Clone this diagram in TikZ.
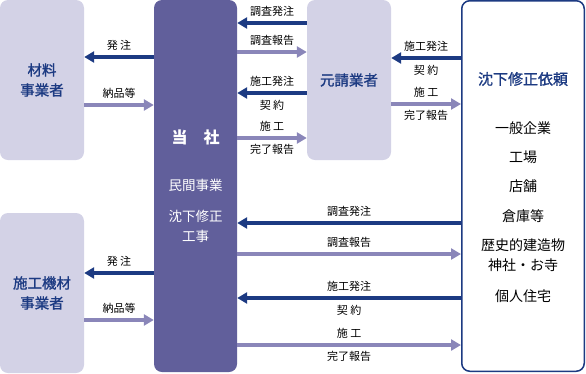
\documentclass[tikz,border=0pt]{standalone}
\usepackage{fontspec}
\setmainfont{Noto Sans CJK JP}
\newfontfamily\semiboldjp[FakeBold=1.2]{Noto Sans CJK JP}
\usetikzlibrary{arrows.meta}
\definecolor{paleviolet}{HTML}{D3D2E6}
\definecolor{companyviolet}{HTML}{615F9B}
\definecolor{ordernavy}{HTML}{1C3A82}
\definecolor{reportviolet}{HTML}{8A86B9}
\tikzset{
  partybox/.style={fill=paleviolet, rounded corners=8pt, minimum width=84pt, minimum height=160pt, inner sep=0pt,
    text=ordernavy, font=\fontsize{14.5}{20}\selectfont\semiboldjp, align=center},
  orderarrow/.style={draw=ordernavy, line width=3.5pt, -{Triangle[width=11pt,length=10pt]}},
  reportarrow/.style={draw=reportviolet, line width=3.5pt, -{Triangle[width=11pt,length=10pt]}},
  flowlabel/.style={font=\fontsize{11}{12}\selectfont, inner sep=1pt, text=black},
  clientitem/.style={font=\fontsize{14}{16}\selectfont, text=black},
}
\begin{document}
\begin{tikzpicture}[x=1pt, y=-1pt]
    \useasboundingbox (0,0) rectangle (586,373);
    % boxes
    \node[partybox] (zairyo) at (42,80) {材料\\事業者};
    \node[partybox] (kizai) at (42,293) {施工機材\\事業者};
    \node[partybox] (motouke) at (349,80) {元請業者};
    \node[fill=companyviolet, rounded corners=8pt, minimum width=83pt, minimum height=372pt, inner sep=0pt] (tosha) at (195.5,186) {};
    \node[draw=ordernavy, line width=1.5pt, fill=white, rounded corners=8pt, minimum width=122.5pt, minimum height=370.5pt, inner sep=0pt] (irai) at (523,186) {};
    % text in the company box
    \node[text=white, font=\fontsize{16}{18}\selectfont\bfseries] (toshaname) at (195.5,137) {当　社};
    \node[text=white, font=\fontsize{13.5}{20}\selectfont, align=center] (toshawork) at (195.5,185) {民間事業};
    \node[text=white, font=\fontsize{13.5}{20}\selectfont, align=center] (toshakind) at (195.5,226) {沈下修正\\工事};
    % text in the client box
    \node[text=ordernavy, font=\fontsize{15}{16}\selectfont\semiboldjp] (iraititle) at (523,79) {沈下修正依頼};
    \node[clientitem] (c1) at (523,128) {一般企業};
    \node[clientitem] (c2) at (523,157) {工場};
    \node[clientitem] (c3) at (523,186) {店舗};
    \node[clientitem] (c4) at (523,216) {倉庫等};
    \node[clientitem, align=center, font=\fontsize{14}{20}\selectfont] (c5) at (523,255) {歴史的建造物\\神社・お寺};
    \node[clientitem] (c6) at (523,296) {個人住宅};
    % company and suppliers
    \draw[orderarrow] (tosha.west |- 0,57) -- (zairyo.east |- 0,57) node[flowlabel, midway, above=4pt] {発 注};
    \draw[reportarrow] (zairyo.east |- 0,105) -- (tosha.west |- 0,105) node[flowlabel, midway, above=4pt] {納品等};
    \draw[orderarrow] (tosha.west |- 0,273) -- (kizai.east |- 0,273) node[flowlabel, midway, above=4pt] {発 注};
    \draw[reportarrow] (kizai.east |- 0,320) -- (tosha.west |- 0,320) node[flowlabel, midway, above=4pt] {納品等};
    % company and main contractor
    \draw[orderarrow] (motouke.west |- 0,23) -- (tosha.east |- 0,23) node[flowlabel, midway, above=4pt] {調査発注};
    \draw[reportarrow] (tosha.east |- 0,52) -- (motouke.west |- 0,52) node[flowlabel, midway, above=4pt] {調査報告};
    \draw[orderarrow] (motouke.west |- 0,93) -- (tosha.east |- 0,93)
        node[flowlabel, midway, above=4pt] {施工発注} node[flowlabel, midway, below=4pt] {契 約};
    \draw[reportarrow] (tosha.east |- 0,138) -- (motouke.west |- 0,138)
        node[flowlabel, midway, above=4pt] {施 工} node[flowlabel, midway, below=4pt] {完了報告};
    % main contractor and client
    \draw[orderarrow] (irai.west |- 0,58) -- (motouke.east |- 0,58)
        node[flowlabel, midway, above=4pt] {施工発注} node[flowlabel, midway, below=4pt] {契 約};
    \draw[reportarrow] (motouke.east |- 0,104) -- (irai.west |- 0,104)
        node[flowlabel, midway, above=4pt] {施 工} node[flowlabel, midway, below=4pt] {完了報告};
    % company and client
    \draw[orderarrow] (irai.west |- 0,223) -- (tosha.east |- 0,223) node[flowlabel, midway, above=4pt] {調査発注};
    \draw[reportarrow] (tosha.east |- 0,254) -- (irai.west |- 0,254) node[flowlabel, midway, above=4pt] {調査報告};
    \draw[orderarrow] (irai.west |- 0,298) -- (tosha.east |- 0,298)
        node[flowlabel, midway, above=4pt] {施工発注} node[flowlabel, midway, below=4pt] {契 約};
    \draw[reportarrow] (tosha.east |- 0,345) -- (irai.west |- 0,345)
        node[flowlabel, midway, above=4pt] {施 工} node[flowlabel, midway, below=4pt] {完了報告};
\end{tikzpicture}
\end{document}
